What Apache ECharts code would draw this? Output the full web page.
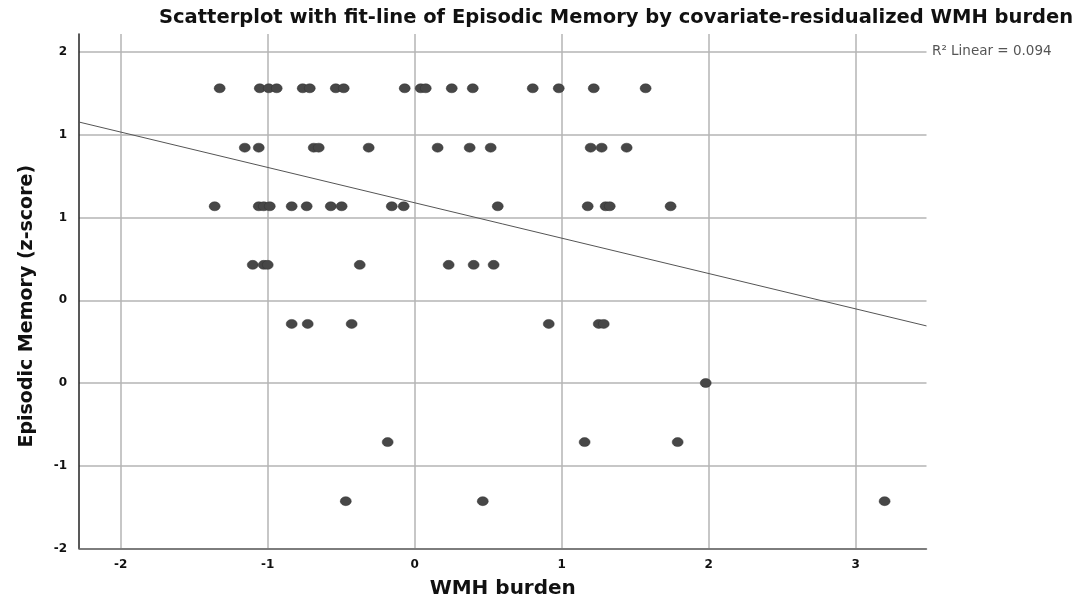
<!DOCTYPE html>
<html>
<head>
<meta charset="utf-8">
<script src="https://cdn.jsdelivr.net/npm/echarts@6/dist/echarts.min.js"></script>
<style>
html,body{margin:0;padding:0;background:#fff;}
#chart{width:1079px;height:600px;}
</style>
</head>
<body>
<div id="chart"></div>
<script>
// WMH burden (x) and Episodic Memory z-score (y)
const wmhBurden = [
  -1.327,-1.054,-0.993,-0.939,-0.762,-0.714,-0.537,-0.483,-0.068,0.041,0.075,0.252,0.395,0.803,0.980,1.218,1.571,
  -1.156,-1.061,-0.687,-0.653,-0.313,0.156,0.374,0.517,1.197,1.272,1.442,
  -1.361,-1.061,-1.027,-0.986,-0.837,-0.735,-0.571,-0.497,-0.156,-0.075,0.565,1.177,1.299,1.327,1.741,
  -1.102,-1.027,-1.000,-0.374,0.231,0.401,0.537,
  -0.837,-0.728,-0.429,0.912,1.252,1.286,
  1.980,
  -0.184,1.156,1.789,
  -0.469,0.463,3.197
];
const episodicMemory = [
  1.781,1.781,1.781,1.781,1.781,1.781,1.781,1.781,1.781,1.781,1.781,1.781,1.781,1.781,1.781,1.781,1.781,
  1.422,1.422,1.422,1.422,1.422,1.422,1.422,1.422,1.422,1.422,1.422,
  1.068,1.068,1.068,1.068,1.068,1.068,1.068,1.068,1.068,1.068,1.068,1.068,1.068,1.068,1.068,
  0.714,0.714,0.714,0.714,0.714,0.714,0.714,
  0.357,0.357,0.357,0.357,0.357,0.357,
  0.0,
  -0.357,-0.357,-0.357,
  -0.714,-0.714,-0.714
];
// fit line end points
const fitX = [-2.284, 3.482];
const fitY = [1.577, 0.345];
// axis ticks
const xTicks = [-2, -1, 0, 1, 2, 3];
const yTicks = [-1, -0.5, 0, 0.5, 1, 1.5, 2];
const yTickLabels = ['-2', '-1', '0', '0', '1', '1', '2'];
const r2Text = 'R\u00B2 Linear = 0.094';

const points = wmhBurden.map((x, i) => [x, episodicMemory[i]]);
const fitData = fitX.map((x, i) => [x, fitY[i]]);

const FONT = 'DejaVu Sans';
const chart = echarts.init(document.getElementById('chart'), null, {renderer: 'canvas'});
chart.setOption({
  animation: false,
  backgroundColor: '#ffffff',
  title: {
    text: 'Scatterplot with fit-line of Episodic Memory by covariate-residualized WMH burden',
    left: 154, top: 3,
    textStyle: {fontFamily: FONT, fontWeight: 'bold', fontSize: 19.5, color: '#111'}
  },
  grid: {left: 79, right: 152.5, top: 34, bottom: 51.5, containLabel: false, outerBoundsMode: 'none'},
  xAxis: {
    type: 'value', min: -2.284, max: 3.482,
    name: 'WMH burden', nameLocation: 'middle', nameGap: 30,
    nameTextStyle: {fontFamily: FONT, fontWeight: 'bold', fontSize: 20, color: '#111'},
    axisLine: {show: true, onZero: false, lineStyle: {color: '#666', width: 1.5}},
    axisTick: {show: false, customValues: xTicks},
    axisLabel: {customValues: xTicks, fontFamily: FONT, fontWeight: 'bold', fontSize: 12, color: '#111', margin: 10},
    splitLine: {show: true, lineStyle: {color: '#b4b4b4', width: 1.5}}
  },
  yAxis: {
    type: 'value', min: -1, max: 2.109,
    name: 'Episodic Memory (z-score)', nameLocation: 'middle', nameGap: 42, nameRotate: 90,
    nameTextStyle: {fontFamily: FONT, fontWeight: 'bold', fontSize: 19, color: '#111', padding: [0, 30, 0, 0]},
    axisLine: {show: true, onZero: false, lineStyle: {color: '#222', width: 1.5}},
    axisTick: {show: false, customValues: yTicks},
    axisLabel: {
      customValues: yTicks, fontFamily: FONT, fontWeight: 'bold', fontSize: 12, color: '#111', margin: 12,
      formatter: function (v) { const i = yTicks.indexOf(v); return i >= 0 ? yTickLabels[i] : ''; }
    },
    splitLine: {show: true, lineStyle: {color: '#b4b4b4', width: 1.5}}
  },
  graphic: [{
    type: 'text', left: 932, top: 44,
    style: {text: r2Text, fontFamily: FONT, fontSize: 13.5, fill: '#555'}
  }],
  series: [
    {
      type: 'line', data: fitData, symbol: 'none', silent: true,
      lineStyle: {color: '#555', width: 1}, z: 2
    },
    {
      type: 'scatter', data: points, symbol: 'circle', symbolSize: [11, 9],
      itemStyle: {color: '#474747', borderColor: '#333', borderWidth: 0.5, opacity: 1}, z: 3
    }
  ]
});
</script>
</body>
</html>
